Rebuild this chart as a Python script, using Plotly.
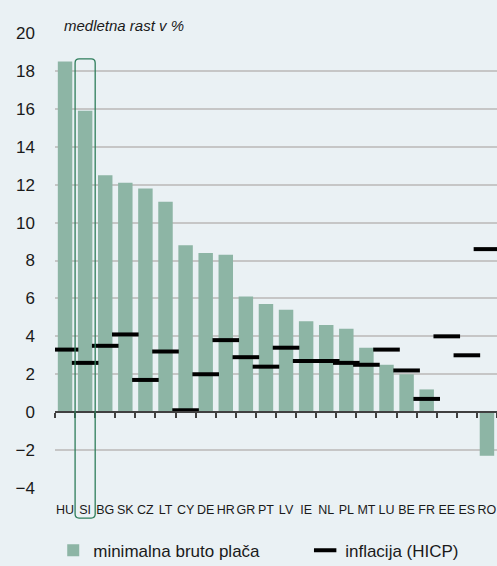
import plotly.graph_objects as go

countries = ["HU", "SI", "BG", "SK", "CZ", "LT", "CY", "DE", "HR", "GR", "PT",
             "LV", "IE", "NL", "PL", "MT", "LU", "BE", "FR", "EE", "ES", "RO"]
min_wage = [18.5, 15.9, 12.5, 12.1, 11.8, 11.1, 8.8, 8.4, 8.3, 6.1, 5.7,
            5.4, 4.8, 4.6, 4.4, 3.4, 2.5, 2.0, 1.2, None, None, -2.3]
inflation = [3.3, 2.6, 3.5, 4.1, 1.7, 3.2, 0.1, 2.0, 3.8, 2.9, 2.4,
             3.4, 2.7, 2.7, 2.6, 2.5, 3.3, 2.2, 0.7, 4.0, 3.0, 8.6]
y_ticks = [-4, -2, 0, 2, 4, 6, 8, 10, 12, 14, 16, 18, 20]
highlight = "SI"

Y_MIN, Y_MAX = -4, 20
FONT = "Liberation Sans, Arial, sans-serif"
BG = "#EAF1F4"
BAR = "#8DB5A5"

fig = go.Figure()
fig.add_trace(go.Bar(
    x=countries, y=min_wage, name="minimalna bruto plača",
    marker=dict(color=BAR, line=dict(width=0)), width=0.72, legend="legend",
))
fig.add_trace(go.Scatter(
    x=countries, y=inflation, name="inflacija (HICP)", mode="markers",
    marker=dict(symbol="line-ew", size=19, line=dict(width=4, color="black"), color="black"),
    legend="legend2",
))

# highlight box around SI (paper coordinates derived from category index)
n = len(countries)
i = countries.index(highlight)
x0, x1 = i / n, (i + 1) / n
y0, y1 = -0.066, 0.943
rx, ry = 4 / 442, 4 / 455
path = (f"M {x0+rx},{y0} L {x1-rx},{y0} Q {x1},{y0} {x1},{y0+ry} "
        f"L {x1},{y1-ry} Q {x1},{y1} {x1-rx},{y1} L {x0+rx},{y1} "
        f"Q {x0},{y1} {x0},{y1-ry} L {x0},{y0+ry} Q {x0},{y0} {x0+rx},{y0} Z")
fig.add_shape(type="path", path=path, xref="paper", yref="paper",
              line=dict(color="#2E7D5B", width=1.3), layer="above")

fig.add_annotation(text="<i>medletna rast v %</i>", xref="paper", yref="paper",
                   x=0.016, y=1, xanchor="left", yanchor="bottom", yshift=-3,
                   showarrow=False, font=dict(family=FONT, size=15, color="#1a1a1a"))

legend_common = dict(orientation="h", y=-0.138, xanchor="left", yanchor="middle",
                     font=dict(family=FONT, size=17, color="#1a1a1a"),
                     bgcolor="rgba(0,0,0,0)", itemclick=False, itemdoubleclick=False)

fig.update_layout(
    width=497, height=566,
    margin=dict(l=55, r=0, t=33, b=78, autoexpand=False),
    paper_bgcolor=BG, plot_bgcolor=BG,
    font=dict(family=FONT, color="#1a1a1a"),
    bargap=0.28,
    showlegend=True,
    legend=dict(x=-0.004, **legend_common),
    legend2=dict(x=0.566, **legend_common),
    xaxis=dict(
        type="category", categoryorder="array", categoryarray=countries,
        range=[-0.5, n - 0.5],
        anchor="free", position=(0 - Y_MIN) / (Y_MAX - Y_MIN),
        showline=True, linecolor="#404040", linewidth=2,
        ticks="outside", tickson="boundaries", ticklen=5, tickwidth=1.5, tickcolor="#404040",
        ticklabelstandoff=86, tickfont=dict(size=12.5), tickangle=0, showgrid=False,
    ),
    yaxis=dict(
        range=[Y_MIN, Y_MAX], tickvals=y_ticks,
        ticktext=[str(v).replace("-", "\u2212") for v in y_ticks],
        showgrid=True, gridcolor="#C6C6C6", gridwidth=1.5,
        zeroline=False, showline=False, ticks="",
        tickfont=dict(size=17), ticklabelstandoff=19,
    ),
)

fig.write_html("out.html", config={"displayModeBar": False},
               post_script="document.body.style.margin='0';document.body.style.overflow='hidden';")
